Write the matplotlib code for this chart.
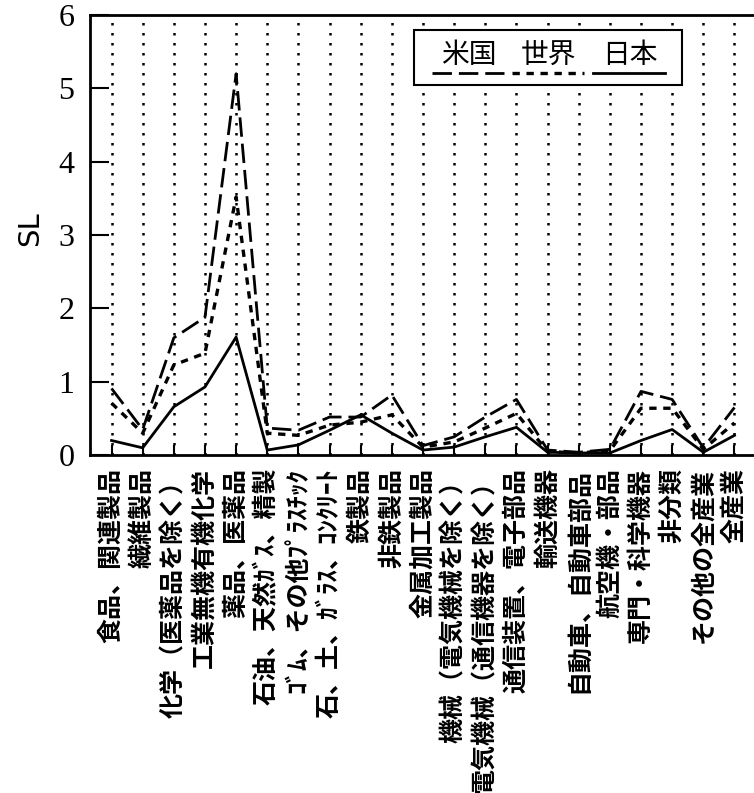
import matplotlib.pyplot as plt
from matplotlib.patches import Rectangle

# 業種ラベル
categories = ['食品、関連製品', '繊維製品', '化学（医薬品を除く）', '工業無機有機化学',
              '薬品、医薬品', '石油、天然ｶﾞｽ、精製', 'ｺﾞﾑ、その他ﾌﾟﾗｽﾁｯｸ',
              '石、土、ｶﾞﾗｽ、ｺﾝｸﾘｰﾄ', '鉄製品', '非鉄製品', '金属加工製品',
              '機械（電気機械を除く）', '電気機械（通信機器を除く）', '通信装置、電子部品',
              '輸送機器', '自動車、自動車部品', '航空機・部品', '専門・科学機器',
              '非分類', 'その他の全産業', '全産業']

# SL値
usa = [0.91, 0.35, 1.60, 1.88, 5.20, 0.37, 0.34, 0.52, 0.52, 0.82, 0.13,
       0.25, 0.52, 0.76, 0.07, 0.04, 0.08, 0.87, 0.76, 0.10, 0.65]
world = [0.71, 0.30, 1.23, 1.39, 3.52, 0.30, 0.27, 0.41, 0.45, 0.55, 0.11,
         0.18, 0.37, 0.57, 0.05, 0.03, 0.06, 0.64, 0.64, 0.08, 0.44]
japan = [0.20, 0.10, 0.66, 0.93, 1.61, 0.07, 0.14, 0.34, 0.55, 0.30, 0.07,
         0.11, 0.25, 0.38, 0.04, 0.03, 0.03, 0.20, 0.35, 0.04, 0.27]

legend_names = ['米国', '世界', '日本']
styles = [(0, (7, 2.5)), (0, (2.2, 2)), '-']

jp = ['Noto Sans CJK JP', 'DejaVu Sans']

fig = plt.figure(figsize=(7.54, 7.93), dpi=100)
ax = fig.add_axes([0.119, 0.426, 0.884, 0.555])

x = list(range(len(categories)))

# 点線のグリッド
for xi in x:
    ax.axvline(xi, color='black', lw=1.8, ls=(0, (1, 3.0)), zorder=1)

ax.plot(x, usa, color='black', lw=2.0, ls=styles[0], zorder=3)
ax.plot(x, world, color='black', lw=2.4, ls=styles[1], zorder=3)
ax.plot(x, japan, color='black', lw=2.0, ls=styles[2], zorder=3)

ax.set_xlim(-0.7, 20.7)
ax.set_ylim(0, 6)
ax.set_yticks(range(0, 7))
ax.set_yticklabels([str(v) for v in range(0, 7)], family='Liberation Serif', fontsize=23)
ax.set_xticks(x)
ax.set_xticklabels(categories, rotation=90, family=jp, fontsize=18, weight='bold')

ax.tick_params(axis='y', direction='in', length=14, width=1.5, pad=11)
ax.tick_params(axis='x', direction='in', length=7, width=1.5, pad=9)

for side in ['left', 'bottom', 'top']:
    ax.spines[side].set_linewidth(2)
ax.spines['right'].set_visible(False)

fig.text(30 / 754, 1 - 229 / 793, 'SL', rotation=90, ha='center', va='center',
         fontsize=21, family='DejaVu Sans')

# 凡例
ax.add_patch(Rectangle((0.486, 0.841), 0.403, 0.125, transform=ax.transAxes,
                       fill=True, facecolor='white', edgecolor='black', lw=1.5, zorder=5))
centers = [0.568, 0.688, 0.810]
widths = [2.0, 2.4, 2.0]
for name, cx, st, w in zip(legend_names, centers, styles, widths):
    ax.text(cx, 0.909, name, transform=ax.transAxes, ha='center', va='center',
            fontsize=20, family=jp, zorder=6)
    ax.plot([cx - 0.055, cx + 0.053], [0.868, 0.868], transform=ax.transAxes,
            color='black', lw=w, ls=st, zorder=6)

fig.savefig('out.png', dpi=100)
